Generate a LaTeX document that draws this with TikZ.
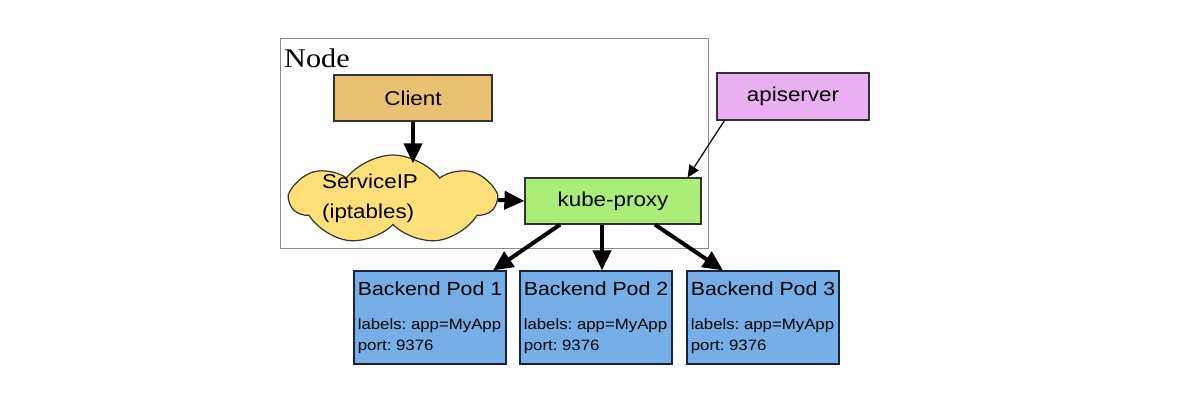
\documentclass[tikz,border=0pt]{standalone}
\usepackage{fontspec}
\setmainfont[FakeStretch=1.12]{Liberation Sans}
\newfontfamily\serifnode[FakeStretch=1.12]{Liberation Serif}
\usepackage{tikz}
\usetikzlibrary{arrows.meta,shapes.symbols}
\frenchspacing

\definecolor{clientfill}{RGB}{234,192,114}
\definecolor{cloudfill}{RGB}{255,224,120}
\definecolor{proxyfill}{RGB}{170,238,120}
\definecolor{apifill}{RGB}{232,176,240}
\definecolor{podfill}{RGB}{118,174,232}
\definecolor{podline}{RGB}{25,35,60}

\tikzset{
	box/.style={draw=black!80, line width=1.2pt, minimum height=46pt, inner sep=0pt, font=\fontsize{20}{24}\selectfont},
	pod/.style={draw=podline, fill=podfill, line width=1.2pt, minimum width=152pt, minimum height=93pt, align=left, inner xsep=3.5pt, inner ysep=2pt, font=\fontsize{15}{21}\selectfont},
	arr/.style={-{Triangle[length=20pt,width=18pt]}, line width=4pt},
	thinarr/.style={-{Triangle[length=12pt,width=11pt]}, line width=1.2pt},
}

\begin{document}
\begin{tikzpicture}[x=1pt,y=-1pt]
	\useasboundingbox (0,0) rectangle (1200,400);
	% the node frame
	\node[draw=black!45, line width=1pt, minimum width=428pt, minimum height=210pt] (nodebox) at (494,143) {};
	\node[anchor=base west, inner sep=0pt, font=\serifnode\fontsize{27}{30}\selectfont] (nodelabel) at (284,67) {Node};
	% boxes
	\node[box, fill=clientfill, minimum width=158pt] (client) at (413,98) {Client};
	\node[cloud, cloud puffs=7, cloud puff arc=105, cloud ignores aspect, draw=black!80, fill=cloudfill, line width=1.2pt, minimum width=204pt, minimum height=90pt, inner sep=0pt] (cloud) at (393,200) {};
	\node[align=left, inner sep=0pt, font=\fontsize{20}{30}\selectfont] (srvtext) at (370,198) {ServiceIP\\(iptables)};
	\node[box, fill=proxyfill, minimum width=176pt] (kp) at (613,201) {kube-proxy};
	\node[box, fill=apifill, minimum width=152pt, minimum height=47pt] (api) at (793,96.5) {apiserver};
	% pods
	\node[pod] (pod1) at (430,317.5) {{\fontsize{19}{24}\selectfont Backend Pod 1}\\[13pt]labels: app=MyApp\\port: 9376};
	\node[pod] (pod2) at (596,317.5) {{\fontsize{19}{24}\selectfont Backend Pod 2}\\[13pt]labels: app=MyApp\\port: 9376};
	\node[pod] (pod3) at (763,317.5) {{\fontsize{19}{24}\selectfont Backend Pod 3}\\[13pt]labels: app=MyApp\\port: 9376};
	% arrows
	\draw[arr] (client.south) -- ([yshift=-9pt]client.south |- cloud.north);
	\draw[arr] (cloud.east) -- (kp.west);
	\draw[thinarr] ([xshift=8pt]api.south west) -- ([xshift=-14pt]kp.north east);
	\draw[arr] ([xshift=-53pt]kp.south) -- ([xshift=63pt]pod1.north);
	\draw[arr] ([xshift=-11pt]kp.south) -- ([xshift=6pt]pod2.north);
	\draw[arr] ([xshift=42pt]kp.south) -- ([xshift=-40pt]pod3.north);
\end{tikzpicture}
\end{document}
